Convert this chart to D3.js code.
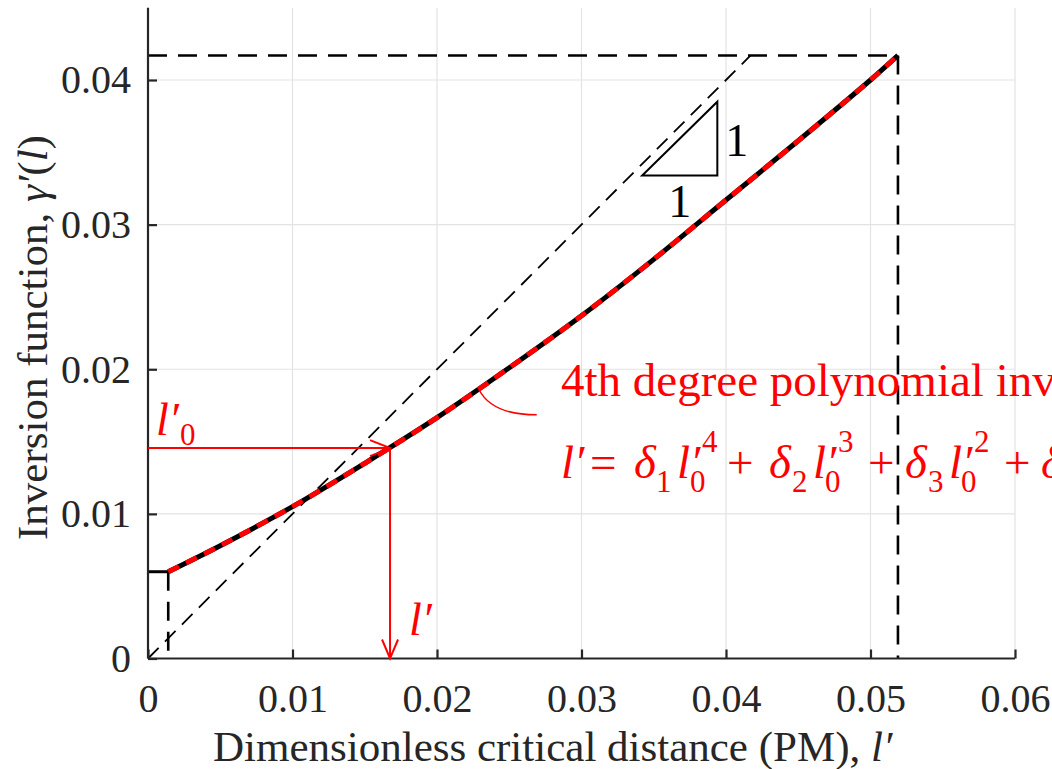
<!DOCTYPE html>
<html><head><meta charset="utf-8">
<script src="https://cdn.jsdelivr.net/npm/d3@7"></script>
<style>
html,body{margin:0;padding:0;background:#fff;overflow:hidden}
text{font-family:"Liberation Serif","Times New Roman",serif}
</style></head>
<body><svg id="c" width="1052" height="769"></svg>
<script>
// ---- data ----
const curveX = [0.0014, 0.0050, 0.0100, 0.0150, 0.0200, 0.0250, 0.0300, 0.0350, 0.0400, 0.0450, 0.0500, 0.0519];
const curveY = [0.0060, 0.0078, 0.0105, 0.0135, 0.01665, 0.0201, 0.0237, 0.0276, 0.0317, 0.0358, 0.0400, 0.0417];
const xTicks = [0, 0.01, 0.02, 0.03, 0.04, 0.05, 0.06];
const xTickLabels = ["0", "0.01", "0.02", "0.03", "0.04", "0.05", "0.06"];
const yTicks = [0, 0.01, 0.02, 0.03, 0.04];
const yTickLabels = ["0", "0.01", "0.02", "0.03", "0.04"];
const xDomain = [0, 0.06];
const yDomain = [0, 0.045];
const arrowPoint = [0.01675, 0.01455];     // l'0 -> l'
const triX = [0.0342, 0.0394];
const triY = [0.0334, 0.0385];
const calloutFrom = [0.0229, 0.0186];
const calloutCtrl = [0.0238, 0.01685];
const calloutTo = [0.0269, 0.01685];

// ---- setup ----
const svg = d3.select("#c");
const x = d3.scaleLinear().domain(xDomain).range([148, 1015]);
const y = d3.scaleLinear().domain(yDomain).range([658.5, 7.7]);
const pts = curveX.map((v, i) => [v, curveY[i]]);
const first = pts[0], last = pts[pts.length - 1];
const axisCol = "#262626";
const FONT = '"Liberation Serif","Times New Roman",serif';

// grid
const g = svg.append("g");
g.selectAll("line.vg").data(xTicks.slice(1)).join("line")
  .attr("x1", d => x(d)).attr("x2", d => x(d)).attr("y1", y(yDomain[0])).attr("y2", y(yDomain[1]))
  .attr("stroke", "#e3e3e3").attr("stroke-width", 1.2);
g.selectAll("line.hg").data(yTicks.slice(1)).join("line")
  .attr("x1", x(xDomain[0])).attr("x2", x(xDomain[1])).attr("y1", d => y(d)).attr("y2", d => y(d))
  .attr("stroke", "#e3e3e3").attr("stroke-width", 1.2);

// reference lines
const line = d3.line().x(d => x(d[0])).y(d => y(d[1]));
svg.append("path").attr("d", line([[0, 0], [last[1], last[1]]]))
  .attr("fill", "none").attr("stroke", "#000").attr("stroke-width", 1.8).attr("stroke-dasharray", "15,9");
svg.append("path").attr("d", line([[0, last[1]], [last[0], last[1]], [last[0], 0]]))
  .attr("fill", "none").attr("stroke", "#000").attr("stroke-width", 2.6).attr("stroke-dasharray", "19,11");
svg.append("path").attr("d", line([[first[0], first[1]], [first[0], 0]]))
  .attr("fill", "none").attr("stroke", "#000").attr("stroke-width", 2.6).attr("stroke-dasharray", "19,11");
svg.append("path").attr("d", line([[0, first[1]], [first[0], first[1]]]))
  .attr("fill", "none").attr("stroke", "#000").attr("stroke-width", 3);

// slope triangle
svg.append("path").attr("d", line([[triX[0], triY[0]], [triX[1], triY[0]], [triX[1], triY[1]]]) + "Z")
  .attr("fill", "none").attr("stroke", "#000").attr("stroke-width", 2);
svg.append("text").attr("x", x(triX[1]) + 8).attr("y", y((triY[0] + triY[1]) / 2) + 17)
  .attr("font-size", 46).attr("fill", "#000").text("1");
svg.append("text").attr("x", x((triX[0] + triX[1]) / 2)).attr("y", y(triY[0]) + 42)
  .attr("text-anchor", "middle").attr("font-size", 46).attr("fill", "#000").text("1");

// main curve
const cl = d3.line().x(d => x(d[0])).y(d => y(d[1])).curve(d3.curveCatmullRom);
svg.append("path").attr("d", cl(pts)).attr("fill", "none").attr("stroke", "#000").attr("stroke-width", 5);
svg.append("path").attr("d", cl(pts)).attr("fill", "none").attr("stroke", "#ff0000").attr("stroke-width", 5)
  .attr("stroke-dasharray", "12,8");

// axes
const xAxis = d3.axisBottom(x).tickValues(xTicks).tickSize(-9).tickPadding(25)
  .tickFormat((d, i) => xTickLabels[i]);
const yAxis = d3.axisLeft(y).tickValues(yTicks).tickSize(-9).tickPadding(17)
  .tickFormat((d, i) => yTickLabels[i]);
const gx = svg.append("g").attr("transform", `translate(0,${y(0)})`).call(xAxis);
const gy = svg.append("g").attr("transform", `translate(${x(0)},0)`).call(yAxis);
[gx, gy].forEach(a => {
  a.select(".domain").attr("stroke", axisCol).attr("stroke-width", 2.2);
  a.selectAll(".tick line").attr("stroke", axisCol).attr("stroke-width", 2.2);
  a.selectAll(".tick text").attr("font-size", 40).attr("fill", axisCol).style("font-family", FONT);
});
gx.select(".domain").attr("d", `M${x(0)},0H${x(xDomain[1])}`);
gy.select(".domain").attr("d", `M0,${y(0)}V${y(yDomain[1])}`);

// axis labels
const xl = svg.append("text").attr("x", 213).attr("y", 761).attr("font-size", 43).attr("fill", axisCol);
xl.append("tspan").text("Dimensionless critical distance (PM), ");
xl.append("tspan").attr("font-style", "italic").text("l′");
const yl = svg.append("text").attr("transform", "translate(47,540) rotate(-90)").attr("font-size", 43).attr("fill", axisCol);
yl.append("tspan").text("Inversion function, ");
yl.append("tspan").attr("font-style", "italic").text("γ′");
yl.append("tspan").text("(");
yl.append("tspan").attr("font-style", "italic").text("l");
yl.append("tspan").text(")");

// red arrows
const red = "#ff0000";
const ax = x(arrowPoint[0]), ay = y(arrowPoint[1]);
svg.append("line").attr("x1", x(0)).attr("y1", ay).attr("x2", ax).attr("y2", ay).attr("stroke", red).attr("stroke-width", 2);
svg.append("path").attr("d", `M${ax - 20},${ay - 8}L${ax},${ay}L${ax - 20},${ay + 8}`)
  .attr("fill", "none").attr("stroke", red).attr("stroke-width", 2);
svg.append("line").attr("x1", ax).attr("y1", ay).attr("x2", ax).attr("y2", y(0)).attr("stroke", red).attr("stroke-width", 2);
svg.append("path").attr("d", `M${ax - 8},${y(0) - 19}L${ax},${y(0)}L${ax + 8},${y(0) - 19}`)
  .attr("fill", "none").attr("stroke", red).attr("stroke-width", 2);

// l'0 label
const l0 = svg.append("text").attr("x", 156).attr("y", 435).attr("font-size", 46).attr("fill", red);
l0.append("tspan").attr("font-style", "italic").text("l′");
l0.append("tspan").attr("x", 180).attr("y", 445).attr("font-size", 31).text("0");
// l' label
svg.append("text").attr("x", 409).attr("y", 635).attr("font-size", 46).attr("fill", red)
  .attr("font-style", "italic").text("l′");

// callout
svg.append("path")
  .attr("d", `M${x(calloutFrom[0])},${y(calloutFrom[1])}Q${x(calloutCtrl[0])},${y(calloutCtrl[1])} ${x(calloutTo[0])},${y(calloutTo[1])}`)
  .attr("fill", "none").attr("stroke", red).attr("stroke-width", 1.5);

svg.append("text").attr("x", 561).attr("y", 396).attr("font-size", 47).attr("fill", red)
  .text("4th degree polynomial inversion");

// equation
const eq = svg.append("g").attr("fill", red);
const base = 478, subB = 492, supB = 452;
function t(xp, yp, s, size, it) {
  eq.append("text").attr("x", xp).attr("y", yp).attr("font-size", size)
    .attr("font-style", it ? "italic" : "normal").text(s);
}
t(561, base, "l′", 47, true);
t(590, base, "=", 47, false);
t(634, base, "δ", 47, true);
t(656, subB, "1", 31, false);
t(677, base, "l′", 47, true);
t(690, subB, "0", 31, false);
t(702, supB, "4", 31, false);
t(727, base, "+", 47, false);
t(769, base, "δ", 47, true);
t(792, subB, "2", 31, false);
t(813, base, "l′", 47, true);
t(825, subB, "0", 31, false);
t(838, supB, "3", 31, false);
t(868, base, "+", 47, false);
t(905, base, "δ", 47, true);
t(928, subB, "3", 31, false);
t(949, base, "l′", 47, true);
t(961, subB, "0", 31, false);
t(974, supB, "2", 31, false);
t(1004, base, "+", 47, false);
t(1041, base, "δ", 47, true);
</script></body></html>
